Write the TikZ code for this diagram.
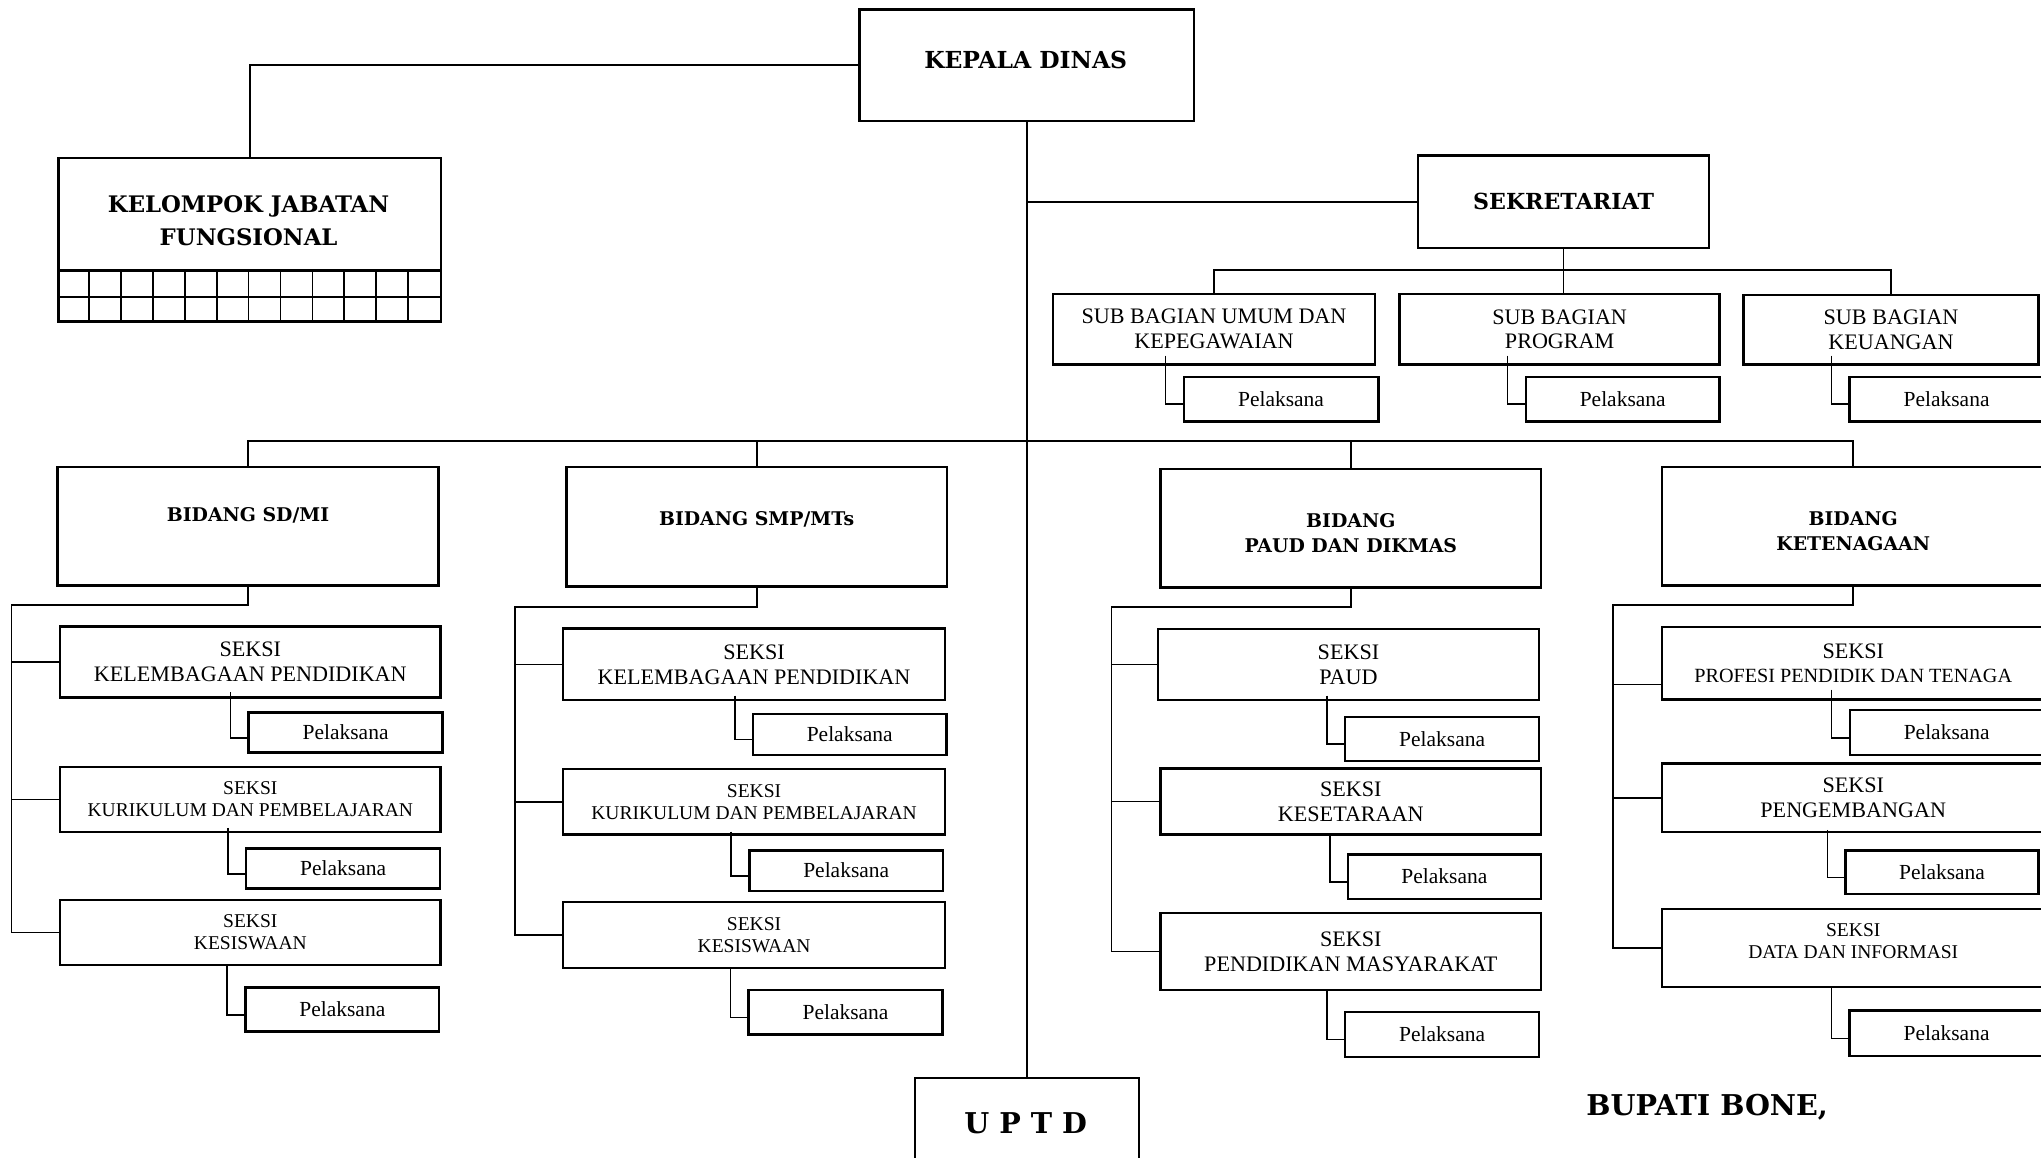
\documentclass[tikz,border=0pt]{standalone}
\usepackage{fontspec}
\setmainfont{Liberation Serif}
\newfontfamily\hdr{DejaVu Serif}
\usetikzlibrary{calc}
\newcommand{\fs}[2]{\fontsize{#1}{#2}\selectfont}
\tikzset{
 bx/.style={draw, line width=1.9pt, inner sep=0pt, anchor=north west, align=center},
 cn/.style={line width=1.3pt},
 hd/.style={font=\hdr\bfseries\fs{14.5}{19}, align=center},
 rg/.style={font=\fs{17}{19}},
 sm/.style={font=\fs{15}{17}},
 pl/.style={font=\fs{16.5}{19}},
}
\newcommand{\pc}[3]{\draw[cn] ($(#1.south -| #2.west)+(-13,-#3)$) |- ($(#2.west)+(0,4)$);}
\begin{document}
\begin{tikzpicture}[x=1pt,y=-1pt]
\useasboundingbox (0,0) rectangle (1568,889);
\clip (0,0) rectangle (1568,889);
\fill[white] (0,0) rectangle (1568,889);
% top
\node[bx, minimum width=257pt, minimum height=85.5pt] (kd) at (659.5,6.5) {};
\node[font=\hdr\bfseries\fs{18}{22}] (kdt) at (788,46) {KEPALA DINAS};
\node[bx, minimum width=294pt, minimum height=125.5pt] (kjf) at (44,120.5) {};
\node[font=\hdr\bfseries\fs{17.5}{25}, align=center] (kjft) at (191,169.5) {KELOMPOK JABATAN\\FUNGSIONAL};
\draw[line width=1.9pt] ($(kjf.south west)+(0,-40)$) -- ($(kjf.south east)+(0,-40)$);
\draw[line width=1.6pt] ($(kjf.south west)+(0,-20)$) -- ($(kjf.south east)+(0,-20)$);
\foreach \i in {1,...,11} \draw[line width=1.3pt] ($(kjf.south west)+(\i*24.5,0)$) -- ++(0,-40);
\node[bx, minimum width=223.4pt, minimum height=71.1pt, font=\hdr\bfseries\fs{17}{20}] (sek) at (1088.6,118.5) {SEKRETARIAT};
\node[bx, rg, minimum width=247.4pt, minimum height=54.3pt] (sb1) at (808,224.8) {SUB BAGIAN UMUM DAN\\KEPEGAWAIAN};
\node[bx, rg, minimum width=245.9pt, minimum height=54.3pt] (sb2) at (1074.3,224.8) {SUB BAGIAN\\PROGRAM};
\node[bx, rg, minimum width=226.4pt, minimum height=53.3pt] (sb3) at (1338.6,225.8) {SUB BAGIAN\\KEUANGAN};
\node[bx, pl, minimum width=149.4pt, minimum height=34.1pt] (sp1) at (908.5,288.6) {Pelaksana};
\node[bx, pl, minimum width=149pt, minimum height=34.1pt] (sp2) at (1171.2,288.6) {Pelaksana};
\node[bx, pl, minimum width=149pt, minimum height=34.1pt] (sp3) at (1420,288.6) {Pelaksana};
% bidang
\node[bx, minimum width=293pt, minimum height=91.1pt] (sd) at (43.1,357.8) {};
\node[hd] (sdt) at ($(sd.center)+(0,-8)$) {BIDANG SD/MI};
\node[bx, minimum width=292.5pt, minimum height=91.7pt] (smp) at (434.1,357.8) {};
\node[hd] (smpt) at ($(smp.center)+(0,-5.5)$) {BIDANG SMP/MTs};
\node[bx, minimum width=292.2pt, minimum height=91.1pt] (paud) at (890.7,359.3) {};
\node[hd] (paudt) at ($(paud.center)+(0,4)$) {BIDANG\\PAUD DAN DIKMAS};
\node[bx, minimum width=294pt, minimum height=91.1pt] (ket) at (1275.8,357.8) {};
\node[hd] (kett) at ($(ket.center)+(0,4)$) {BIDANG\\KETENAGAAN};
% SD column
\node[bx, rg, minimum width=292.5pt, minimum height=54.6pt] (sd1) at (45.1,480.2) {SEKSI\\KELEMBAGAAN PENDIDIKAN};
\node[bx, pl, minimum width=148.9pt, minimum height=30.7pt] (sdp1) at (190.1,546.4) {Pelaksana};
\node[bx, sm, minimum width=292.5pt, minimum height=49.9pt] (sd2) at (45.1,588.3) {SEKSI\\KURIKULUM DAN PEMBELAJARAN};
\node[bx, pl, minimum width=148.9pt, minimum height=30.7pt] (sdp2) at (188.2,650.9) {Pelaksana};
\node[bx, sm, minimum width=292.5pt, minimum height=50.1pt] (sd3) at (45.1,690.4) {SEKSI\\KESISWAAN};
\node[bx, pl, minimum width=148.9pt, minimum height=33.7pt] (sdp3) at (187.6,757.8) {Pelaksana};
% SMP column
\node[bx, rg, minimum width=293.5pt, minimum height=55pt] (smp1) at (431.6,482) {SEKSI\\KELEMBAGAAN PENDIDIKAN};
\node[bx, pl, minimum width=148.5pt, minimum height=31.3pt] (smpp1) at (577.6,547.6) {Pelaksana};
\node[bx, sm, minimum width=293.5pt, minimum height=50.5pt] (smp2) at (431.6,589.8) {SEKSI\\KURIKULUM DAN PEMBELAJARAN};
\node[bx, pl, minimum width=148.9pt, minimum height=31pt] (smpp2) at (574.7,652.4) {Pelaksana};
\node[bx, sm, minimum width=293.5pt, minimum height=50.6pt] (smp3) at (431.6,692) {SEKSI\\KESISWAAN};
\node[bx, pl, minimum width=148.9pt, minimum height=34.1pt] (smpp3) at (574.2,759.6) {Pelaksana};
% PAUD column
\node[bx, rg, minimum width=292.8pt, minimum height=54.7pt] (paud1) at (888.6,482.3) {SEKSI\\PAUD};
\node[bx, pl, minimum width=148.9pt, minimum height=33.7pt] (paudp1) at (1032.5,549.8) {Pelaksana};
\node[bx, rg, minimum width=292.2pt, minimum height=50.8pt] (paud2) at (890.7,589.5) {SEKSI\\KESETARAAN};
\node[bx, pl, minimum width=148.4pt, minimum height=34pt] (paudp2) at (1034.5,655.5) {Pelaksana};
\node[bx, rg, minimum width=292.2pt, minimum height=59.2pt] (paud3) at (890.7,700.4) {SEKSI\\PENDIDIKAN MASYARAKAT};
\node[bx, pl, minimum width=148.9pt, minimum height=34.6pt] (paudp3) at (1032.5,776.4) {Pelaksana};
% KET column
\node[bx, minimum width=294pt, minimum height=55.7pt, font=\fs{15.5}{19}] (ket1) at (1275.8,480.7) {{\fs{17}{19}SEKSI}\\PROFESI PENDIDIK DAN TENAGA};
\node[bx, pl, minimum width=149pt, minimum height=34.3pt] (ketp1) at (1420.1,544.6) {Pelaksana};
\node[bx, rg, minimum width=294pt, minimum height=52.6pt] (ket2) at (1275.8,585.6) {SEKSI\\PENGEMBANGAN};
\node[bx, pl, minimum width=148pt, minimum height=33.3pt] (ketp2) at (1417,652.5) {Pelaksana};
\node[bx, minimum width=294pt, minimum height=59.8pt] (ket3) at (1275.8,697.4) {};
\node[sm, align=center] (ket3t) at ($(ket3.center)+(0,-5)$) {SEKSI\\DATA DAN INFORMASI};
\node[bx, pl, minimum width=149pt, minimum height=34.9pt] (ketp3) at (1420,775.5) {Pelaksana};
% UPTD and signature
\node[bx, minimum width=172pt, minimum height=80pt] (uptd) at (702,827.1) {};
\node[font=\hdr\bfseries\fs{22}{26}] (uptdt) at (788,863) {U P T D};
\node[font=\hdr\bfseries\fs{22}{26}] (bupati) at (1311.5,851) {BUPATI BONE,};
% connectors top
\draw[cn] (kd.south) -- (uptd.north);
\draw[cn] (kd.west) -| (kjf.north);
\draw[cn] (sek.west) -- (sek.west -| kd.south);
\coordinate (sbus) at ($(sek.south)+(0,16)$);
\draw[cn] (sek.south) -- (sek.south |- sb2.north);
\draw[cn] (sb1.north) -- (sb1.north |- sbus) -| (sb3.north);
\pc{sb1}{sp1}{7.7}
\pc{sb2}{sp2}{7.7}
\pc{sb3}{sp3}{7.7}
% bidang bus
\coordinate (bbus) at ($(sd.north)+(0,-18.8)$);
\draw[cn] (sd.north) -- (bbus) -| (ket.north);
\draw[cn] (smp.north) -- (smp.north |- bbus);
\draw[cn] (paud.north) -- (paud.north |- bbus);
% SD branches
\coordinate (sdx) at (8.8,465);
\draw[cn] (sd.south) |- (sdx) |- (sd3.west);
\draw[cn] (sdx |- sd1.west) -- (sd1.west);
\draw[cn] (sdx |- sd2.west) -- (sd2.west);
\pc{sd1}{sdp1}{4.8}
\pc{sd2}{sdp2}{4}
\pc{sd3}{sdp3}{0}
% SMP branches
\coordinate (smpx) at (395.9,466.5);
\draw[cn] (smp.south) |- (smpx) |- (smp3.west);
\draw[cn] (smpx |- smp1.west) -- (smp1.west);
\draw[cn] (smpx |- smp2.west) -- (smp2.west);
\pc{smp1}{smpp1}{4.5}
\pc{smp2}{smpp2}{3.3}
\pc{smp3}{smpp3}{0}
% PAUD branches
\coordinate (paudx) at (854,466.5);
\draw[cn] (paud.south) |- (paudx) |- (paud3.west);
\draw[cn] (paudx |- paud1.west) -- (paud1.west);
\draw[cn] (paudx |- paud2.west) -- (paud2.west);
\pc{paud1}{paudp1}{4.5}
\pc{paud2}{paudp2}{2.1}
\pc{paud3}{paudp3}{0}
% KET branches
\coordinate (ketx) at (1239,465);
\draw[cn] (ket.south) |- (ketx) |- (ket3.west);
\draw[cn] ($(ketx |- ket1.west)+(0,16.4)$) -- ($(ket1.west)+(0,16.4)$);
\draw[cn] (ketx |- ket2.west) -- (ket2.west);
\pc{ket1}{ketp1}{8.5}
\pc{ket2}{ketp2}{2.5}
\pc{ket3}{ketp3}{0}
\end{tikzpicture}
\end{document}
